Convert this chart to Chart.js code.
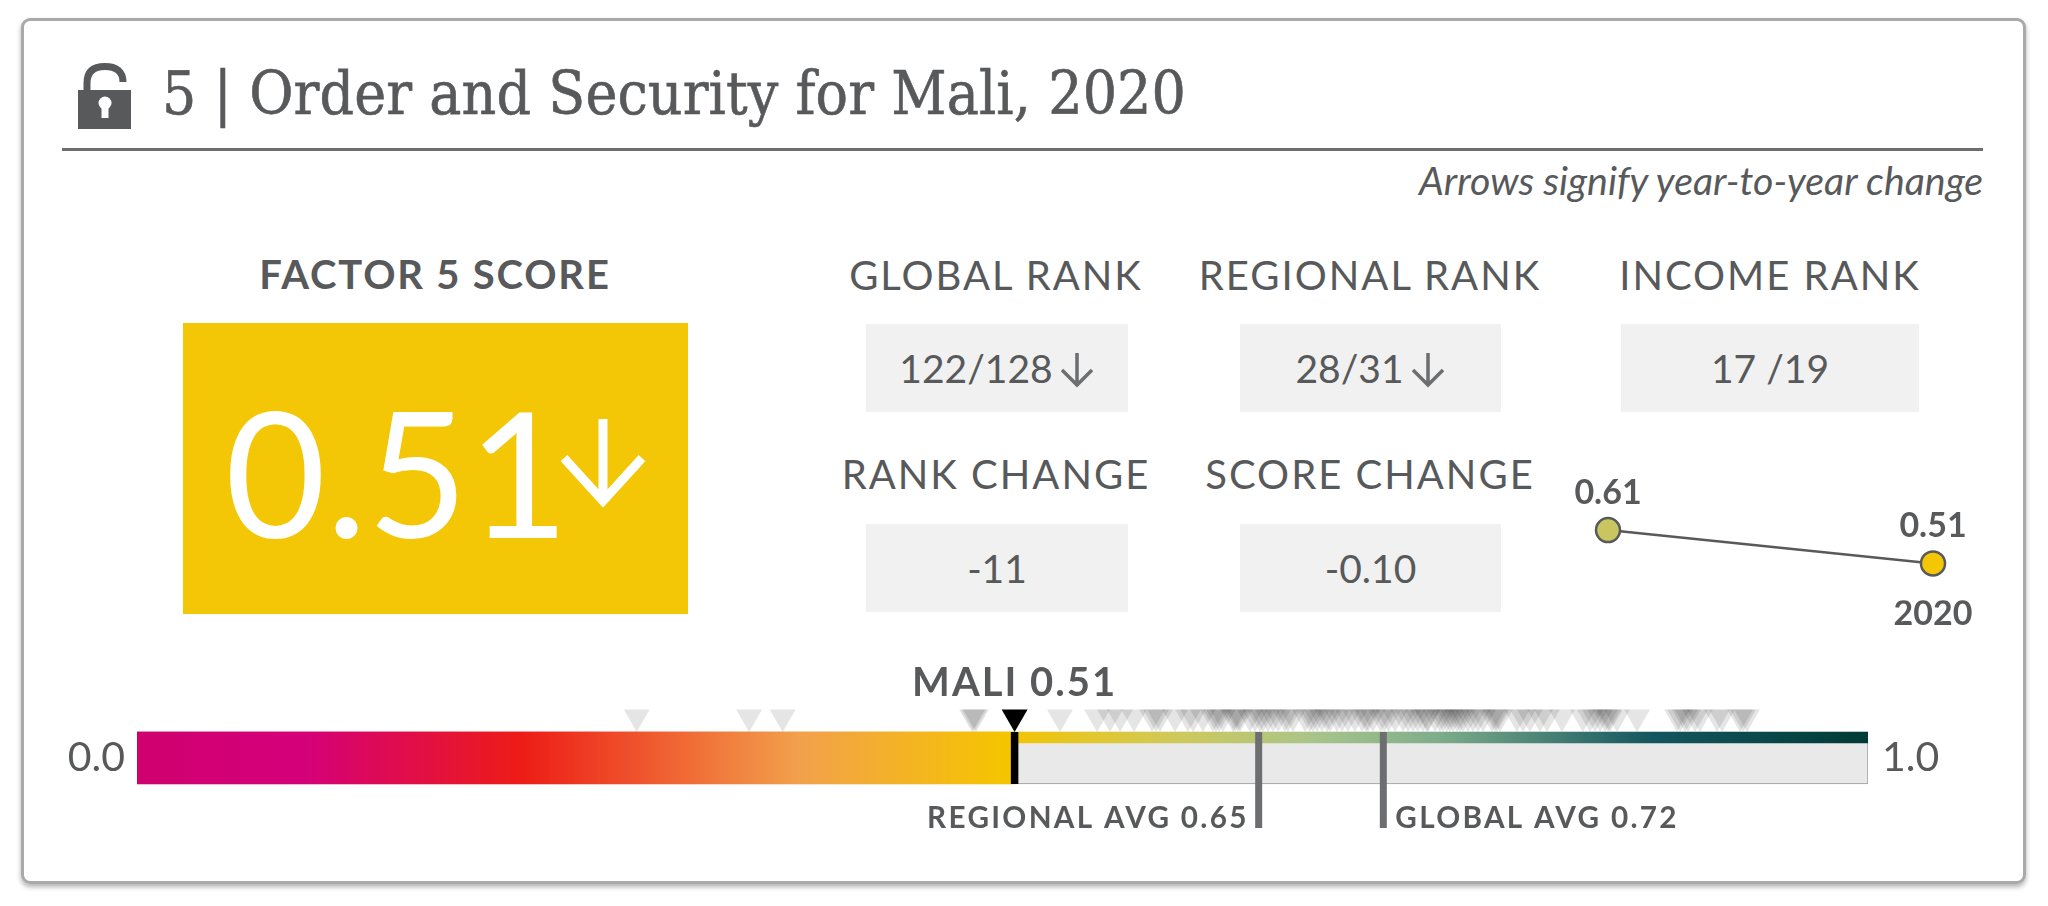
<!DOCTYPE html>
<html>
<head>
<meta charset="utf-8">
<title>Order and Security for Mali, 2020</title>
<script src="https://cdn.jsdelivr.net/npm/chart.js@4"></script>
<style>
  html, body { margin: 0; padding: 0; background: #fff; width: 2048px; height: 906px; overflow: hidden; }
  body { font-family: Lato, sans-serif; color: #58595b; position: relative; }
  #card { position: absolute; left: 21px; top: 18px; width: 1999px; height: 860px; border: 3px solid #a9a9a9; border-radius: 9px; box-shadow: 0 3px 5px rgba(0,0,0,.3); }
  #rule { position: absolute; left: 62px; top: 148px; width: 1921px; height: 3px; background: #6d6e70; }
  #title { position: absolute; left: 162px; top: 50px; font: 60px "DejaVu Serif Condensed", "DejaVu Serif", serif; -webkit-text-stroke: .6px #58595b; letter-spacing: .1px; white-space: nowrap; line-height: 86px; }
  #note { position: absolute; right: 65px; top: 159px; font: italic 39.300px Lato, sans-serif; line-height: 42px; white-space: nowrap; }
  .head { position: absolute; width: 400px; text-align: center; font-size: 40px; line-height: 46px; letter-spacing: 2px; white-space: nowrap; }
  .head.bold { font-weight: 700; letter-spacing: 1.8px; }
  .tile { position: absolute; background: #f1f1f1; height: 88px; line-height: 88px; text-align: center; font-size: 39px; white-space: nowrap; }
  .tile svg { margin-left: 6px; vertical-align: -5px; }
  #score { position: absolute; left: 183px; top: 323px; width: 505px; height: 291px; background: #f3c705; color: #fff; }
  #scoreNum { position: absolute; left: 42px; top: 45px; font-size: 174px; font-weight: 400; line-height: 206px; }
  #scoreArrow { position: absolute; left: 378px; top: 94px; }
  #lock { position: absolute; left: 76px; top: 62px; }
  #strip { position: absolute; left: 50px; top: 660px; }
  #slope { position: absolute; left: 1570px; top: 470px; }
</style>
</head>
<body>
<div id="card"></div>
<svg id="lock" width="58" height="70" viewBox="0 0 58 70">
  <path d="M2 28h53v39H2z" fill="#58595b"/>
  <path d="M11 28V21C11 9 18 4.500 29 4.500S47 9 47 20" fill="none" stroke="#58595b" stroke-width="7"/>
  <circle cx="29" cy="41" r="6.500" fill="#fff"/>
  <path d="M25.500 42h7v14h-7z" fill="#fff"/>
</svg>
<div id="title">5 | Order and Security for Mali, 2020</div>
<div id="rule"></div>
<div id="note">Arrows signify year-to-year change</div>

<div class="head bold" style="left:235px;top:251px">FACTOR 5 SCORE</div>
<div id="score">
  <div id="scoreNum"></div>
  <svg id="scoreArrow" width="84" height="90" viewBox="0 0 84 90"><path d="M42 2V84M3 41L42 84L81 41" fill="none" stroke="#fff" stroke-width="9"/></svg>
</div>
<div id="panels"></div>
<canvas id="slope" width="420" height="170"></canvas>
<canvas id="strip" width="1910" height="180"></canvas>

<script>
// values
var countryName = "MALI";
var factorScore = 0.507;
var regionalAvg = 0.648;
var globalAvg = 0.72;
var slopeYears = ["2019", "2020"];
var slopeScores = [0.61, 0.51];
var rangeLabels = ["0.0", "1.0"];
var rankHeads = ["GLOBAL RANK", "REGIONAL RANK", "INCOME RANK", "RANK CHANGE", "SCORE CHANGE"];
var rankValues = ["122/128", "28/31", "17 /19", "-11", "-0.10"];
var rankArrows = [true, true, false, false, false];
var otherScores = [
  .2887, .3536, .3730, .4824, .4835, .4847, .5332, .5546, .5621, .5679, .5760, .5864, .5887, .5910,
  .5997, .6072, .6101, .6158, .6216, .6233, .6251, .6274, .6332, .6343, .6360, .6372, .6430, .6459,
  .6488, .6505, .6534, .6563, .6592, .6632, .6649, .6678, .6748, .6776, .6794, .6817, .6846, .6875,
  .6892, .6932, .6961, .6996, .7036, .7077, .7100, .7111, .7140, .7185, .7205, .7230, .7268, .7314,
  .7343, .7372, .7400, .7429, .7452, .7458, .7499, .7527, .7545, .7568, .7585, .7603, .7626, .7643,
  .7660, .7689, .7718, .7747, .7776, .7828, .7845, .7857, .7874, .7972, .8007, .8047, .8105, .8146,
  .8232, .8353, .8394, .8423, .8452, .8481, .8498, .8509, .8550, .8666, .8897, .8914, .8943, .8960,
  .9001, .9029, .9128, .9157, .9261, .9278, .9301
];
var gradientStops = [0, .095, .222, .383, .5, .6, .68, .75, .875, 1];
var gradientColors = ["#d0006f", "#d4007a", "#ed1c16", "#f2a14c", "#f5c400", "#cfc95a", "#a9c48a", "#7fae8b", "#14565f", "#003a34"];

// html panels
var smallArrow = '<svg width="36" height="36" viewBox="0 0 36 36"><path d="M18 1V33M3 18L18 33L33 18" fill="none" stroke="#6d6e70" stroke-width="3.500"/></svg>';
var tileBoxes = [[866, 324, 262], [1240, 324, 261], [1621, 324, 298], [866, 524, 262], [1240, 524, 261]];
var headCentres = [[996, 252], [1370, 252], [1770, 252], [996, 451], [1370, 451]];
var panels = document.getElementById("panels");
rankHeads.forEach(function (h, i) {
  var d = document.createElement("div");
  d.className = "head";
  d.textContent = h;
  d.style.left = (headCentres[i][0] - 200) + "px";
  d.style.top = headCentres[i][1] + "px";
  panels.appendChild(d);
  var t = document.createElement("div");
  t.className = "tile";
  t.style.left = tileBoxes[i][0] + "px";
  t.style.top = tileBoxes[i][1] + "px";
  t.style.width = tileBoxes[i][2] + "px";
  t.innerHTML = rankValues[i] + (rankArrows[i] ? smallArrow : "");
  panels.appendChild(t);
});
document.getElementById("scoreNum").textContent = slopeScores[1].toFixed(2);

Chart.defaults.animation = false;
Chart.defaults.responsive = false;
Chart.defaults.font.family = "Lato, sans-serif";

var TEXT = "#58595b";
var TICK = "#6d6e70";
// y scale of the strip runs in canvas pixels from the top
var BAR_TOP = 72, BAR_BOTTOM = 124, BAND_HEIGHT = 11, TICK_BOTTOM = 168, TRI_RADIUS = 15;

function barGradient(context) {
  var chart = context.chart, area = chart.chartArea;
  if (!area) return gradientColors[0];
  var g = chart.ctx.createLinearGradient(area.left, 0, area.right, 0);
  gradientStops.forEach(function (s, i) { g.addColorStop(s, gradientColors[i]); });
  return g;
}

function drawText(ctx, text, x, y, font, align, spacing) {
  ctx.save();
  ctx.font = font;
  ctx.fillStyle = TEXT;
  ctx.textAlign = align;
  ctx.textBaseline = "middle";
  ctx.letterSpacing = spacing || "0px";
  ctx.fillText(text, x, y);
  ctx.restore();
}

var stripLabels = {
  id: "stripLabels",
  afterDraw: function (chart) {
    var x = chart.scales.x, ctx = chart.ctx;
    drawText(ctx, rangeLabels[0], x.getPixelForValue(0) - 12, 98, "41px Lato", "right");
    drawText(ctx, rangeLabels[1], x.getPixelForValue(1) + 14, 98, "41px Lato", "left");
    drawText(ctx, countryName + " " + slopeScores[1].toFixed(2), x.getPixelForValue(factorScore), 23, "bold 40px Lato", "center", "2px");
    drawText(ctx, "REGIONAL AVG 0.65", x.getPixelForValue(regionalAvg) - 10, 158, "bold 29.700px Lato", "right", "2.300px");
    drawText(ctx, "GLOBAL AVG 0.72", x.getPixelForValue(globalAvg) + 12, 158, "bold 29.700px Lato", "left", "2.300px");
  }
};

new Chart(document.getElementById("strip"), {
  type: "bar",
  data: {
    datasets: [
      { label: "range", data: [{ x: [0, 1], y: (BAR_TOP + BAR_BOTTOM) / 2 }], backgroundColor: "#e9e9e9", borderColor: "#999999", borderWidth: 1, barThickness: BAR_BOTTOM - BAR_TOP, grouped: false, order: 6 },
      { label: "band", data: [{ x: [0, 1], y: BAR_TOP + BAND_HEIGHT / 2 }], backgroundColor: barGradient, barThickness: BAND_HEIGHT, grouped: false, order: 5 },
      { label: "score", data: [{ x: [0, factorScore], y: (BAR_TOP + BAR_BOTTOM) / 2 }], backgroundColor: barGradient, barThickness: BAR_BOTTOM - BAR_TOP, grouped: false, order: 4 },
      { type: "scatter", label: "regional", showLine: true, data: [{ x: regionalAvg, y: BAR_TOP }, { x: regionalAvg, y: TICK_BOTTOM }], borderColor: TICK, borderWidth: 7, pointRadius: 0, order: 3 },
      { type: "scatter", label: "global", showLine: true, data: [{ x: globalAvg, y: BAR_TOP }, { x: globalAvg, y: TICK_BOTTOM }], borderColor: TICK, borderWidth: 7, pointRadius: 0, order: 3 },
      { type: "scatter", label: "mali bar", showLine: true, data: [{ x: factorScore, y: BAR_TOP }, { x: factorScore, y: BAR_BOTTOM }], borderColor: "#000", borderWidth: 7.500, pointRadius: 0, order: 2 },
      { type: "scatter", label: "countries", data: otherScores.map(function (v) { return { x: v, y: BAR_TOP - TRI_RADIUS }; }), pointStyle: "triangle", rotation: 180, pointRadius: TRI_RADIUS, pointBackgroundColor: "rgba(0,0,0,.1)", pointBorderWidth: 0, order: 1 },
      { type: "scatter", label: "mali", data: [{ x: factorScore, y: BAR_TOP - TRI_RADIUS }], pointStyle: "triangle", rotation: 180, pointRadius: TRI_RADIUS, pointBackgroundColor: "#000", pointBorderWidth: 0, order: 0 }
    ]
  },
  options: {
    indexAxis: "y",
    layout: { autoPadding: false, padding: { left: 87, right: 92, top: 0, bottom: 0 } },
    plugins: { legend: { display: false }, tooltip: { enabled: false } },
    scales: {
      x: { type: "linear", min: 0, max: 1, display: false },
      y: { type: "linear", offset: false, min: 0, max: 180, reverse: true, display: false }
    }
  },
  plugins: [stripLabels]
});

var slopeLabels = {
  id: "slopeLabels",
  afterDraw: function (chart) {
    var pts = chart.getDatasetMeta(0).data, ctx = chart.ctx;
    pts.forEach(function (p, i) {
      drawText(ctx, slopeScores[i].toFixed(2), p.x, p.y - 37, "bold 34px Lato", "center");
    });
  }
};

new Chart(document.getElementById("slope"), {
  type: "line",
  data: {
    labels: slopeYears,
    datasets: [{
      data: slopeScores,
      borderColor: TEXT,
      borderWidth: 2.500,
      tension: 0,
      pointRadius: 12,
      pointBorderWidth: 2.500,
      pointBorderColor: TEXT,
      pointBackgroundColor: ["#c9c561", "#f3c705"]
    }]
  },
  options: {
    layout: { padding: { left: 38, right: 57, top: 30, bottom: 13 } },
    plugins: { legend: { display: false }, tooltip: { enabled: false } },
    scales: {
      x: {
        grid: { display: false, drawTicks: false },
        border: { display: false },
        ticks: {
          color: TEXT,
          font: { size: 34, weight: "bold" },
          padding: -7,
          maxRotation: 0,
          autoSkip: false,
          callback: function (v, i) { return i === 1 ? slopeYears[1] : ""; }
        }
      },
      y: { display: false, min: 0.4, max: 0.7 }
    }
  },
  plugins: [slopeLabels]
});
</script>
</body>
</html>
